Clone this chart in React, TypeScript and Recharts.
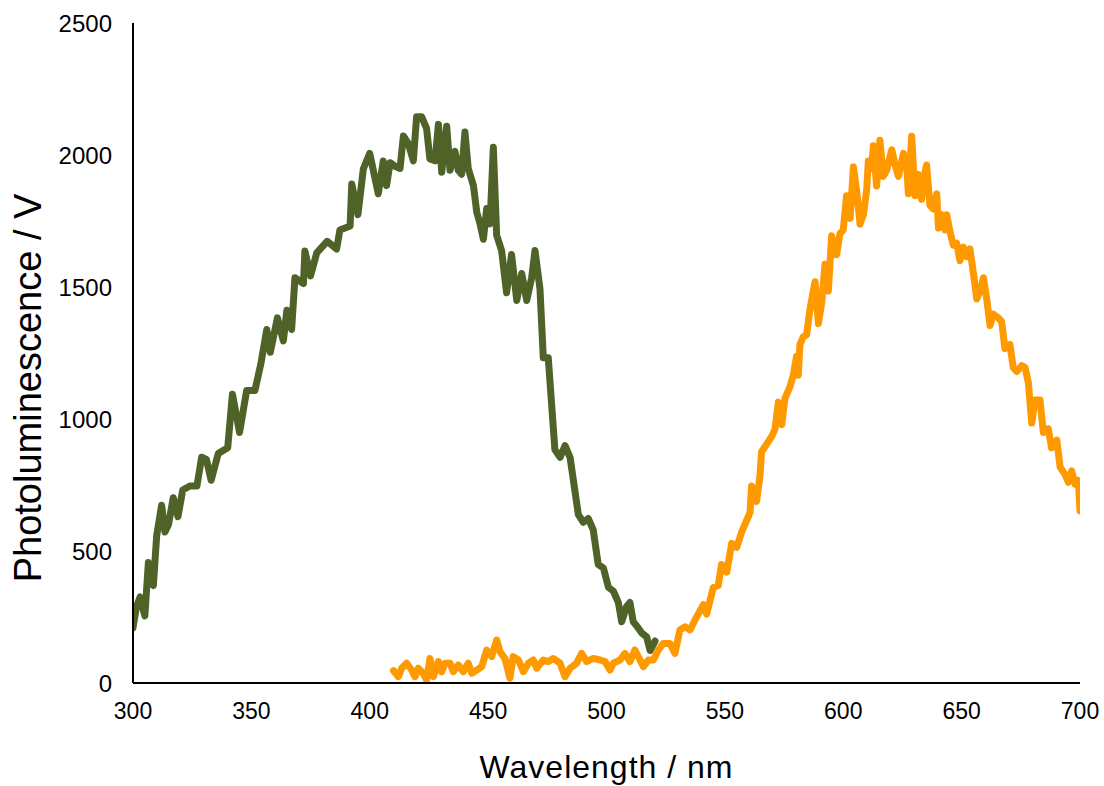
import { LineChart, Line, XAxis, YAxis, Label } from 'recharts';

// PL spectra: wavelength (nm) and signal (V)
const greenWl = [
  300, 301.5, 303, 305, 306.5, 308.6, 310, 312.1, 313.5, 315, 317, 319, 321, 324, 327, 329, 331, 333, 336,
  340, 342, 345, 348, 351.5, 354, 356.5, 358, 361, 363.5, 365, 367, 368.4, 372, 372.6, 375, 377.6, 382,
  386, 387.4, 391.7, 392.4, 395, 397.3, 400, 403.6, 405.7, 407.1, 408.6, 410.7, 412.8, 414.2, 416.3,
  418.4, 419.8, 421.9, 424, 425.4, 427.6, 429, 430.4, 432.5, 433.9, 436, 437.4, 438.8, 440.2, 441.6,
  443.8, 445.2, 446.6, 448, 449.4, 450.8, 452.2, 453.6, 455.7, 457.8, 459.9, 462.1, 464.2, 466.3, 468.4,
  469.8, 471.9, 473.3, 475.4, 476.8, 478.2, 480.4, 482.5, 484.6, 486.7, 488.1, 490.2, 492.3, 494.4,
  496.5, 498.7, 500.8, 502.9, 505, 506.4, 508.5, 509.9, 511.3, 512.7, 514.9, 517, 518.4, 520.5,
];
const greenPl = [
  210, 290, 326, 254, 456, 369, 558, 673, 572, 600, 702, 630, 731, 746, 746, 855, 847, 768, 869,
  891, 1094, 949, 1108, 1108, 1209, 1339, 1253, 1383, 1296, 1412, 1339, 1535, 1513, 1636, 1542, 1629, 1673,
  1644, 1716, 1731, 1890, 1774, 1948, 2006, 1853, 1977, 1884, 1971, 1957, 1949, 2072, 2043,
  1978, 2145, 2145, 2101, 1985, 1978, 2116, 1935, 2109, 1942, 2014, 1942, 1927, 2087, 1949,
  1884, 1783, 1739, 1681, 1797, 1739, 2029, 1696, 1638, 1478, 1623, 1449, 1551, 1449, 1536,
  1638, 1493, 1232, 1232, 1058, 884, 855, 899, 855, 725, 638, 609, 623, 580,
  449, 435, 363, 348, 305, 232, 290, 305, 232, 217, 189, 174, 123, 159,
];

const orangeWl = [
  410, 412.1, 413.5, 415.6, 417.7, 419.1, 420.5, 422.6, 424, 425.4, 426.9, 429, 430.4, 431.8, 433.9,
  435.3, 437.4, 439.5, 441.6, 443.1, 445.2, 447.3, 449.4, 451.5, 453.6, 455, 457.1, 459.2, 460.6, 462.8,
  464.9, 467, 469.1, 470.5, 473.3, 475.4, 477.5, 480.4, 482.5, 484.6, 487.4, 489.5, 491.6, 494.4, 497.3,
  499.4, 501.5, 502.9, 505.7, 507.8, 509.9, 512, 514.2, 515.6, 517.7, 519.8, 521.9, 524, 526.8, 528.9,
  531, 533.2, 535.3, 537.4, 540.9, 542.3, 543.7, 545.1, 547.2, 548.6, 550.8, 552.9, 555, 557.1, 559.2,
  560.6, 561.3, 563.4, 564.8, 565.5, 567.7, 569.8, 571.2, 572.6, 574, 575.4, 577.5, 578.9, 580.3, 581,
  581.7, 583.1, 584.5, 586, 588.1, 589.5, 590.9, 592.3, 593.7, 595.1, 597.2, 598.6, 600, 601.4, 602.9,
  604.3, 605.7, 607.1, 608.5, 609.9, 610.6, 612, 612.7, 614.1, 615.5, 616.9, 618.3, 620.5, 621.9, 623.3,
  625.4, 626.8, 627.5, 628.9, 630.3, 631.7, 633.1, 633.8, 635.2, 636.6, 638, 639.5, 640.2, 641.6, 643,
  643.7, 645.1, 646.5, 647.9, 649.3, 650.7, 652.1, 653.5, 654.9, 656.4, 657.8, 659.2, 660.6, 662, 663.4,
  665.5, 666.9, 668.3, 670.4, 671.8, 673.3, 675.4, 676.8, 678.2, 679.6, 681, 683.1, 684.5, 686.6, 688,
  690.2, 691.6, 693.7, 695.1, 696.5, 697.9, 699.3, 700,
];
const orangePl = [
  47, 24, 56, 75, 49, 24, 56, 37, 11, 93, 24, 81, 43, 75, 75,
  43, 68, 43, 75, 37, 49, 62, 125, 100, 163, 119, 93, 18, 100, 87,
  43, 75, 87, 56, 87, 81, 93, 75, 24, 56, 75, 112, 81, 93, 87,
  81, 49, 75, 87, 112, 81, 125, 87, 62, 87, 87, 125, 150, 150, 112,
  201, 213, 201, 239, 297, 261, 311, 362, 369, 449, 420, 529, 514, 572, 616,
  645, 746, 688, 782, 876, 905, 934, 963, 1064, 978, 1079, 1122, 1166, 1238, 1166,
  1282, 1311, 1318, 1419, 1520, 1361, 1441, 1586, 1485, 1694, 1622, 1702, 1716, 1846, 1760,
  1955, 1861, 1738, 1774, 1868, 1977, 1948, 2035, 1883, 2056, 1919, 1941, 2020, 1962, 1919,
  2006, 1962, 1853, 2071, 1846, 1926, 1832, 1904, 1962, 1810, 1796, 1853, 1723, 1774, 1716,
  1774, 1709, 1658, 1666, 1600, 1651, 1615, 1644, 1557, 1455, 1485, 1535, 1455, 1354, 1397,
  1383, 1369, 1267, 1282, 1195, 1180, 1202, 1195, 1137, 985, 1072, 1072, 949, 963, 891,
  920, 818, 789, 760, 804, 753, 767, 652,
];

const xTicks = [300, 350, 400, 450, 500, 550, 600, 650, 700];
const yTicks = [0, 500, 1000, 1500, 2000, 2500];

const greenData = greenWl.map((x, i) => ({ x, y: greenPl[i] }));
const orangeData = orangeWl.map((x, i) => ({ x, y: orangePl[i] }));

const font = 'Liberation Sans, Arial, sans-serif';

// y title sits a bit below the plot's centre in the reference
const YTitle = () => (
  <text
    x={28}
    y={388}
    transform="rotate(-90 28 388)"
    textAnchor="middle"
    dominantBaseline="central"
    fill="#000"
    fontSize={38}
    fontFamily={font}
  >
    Photoluminescence / V
  </text>
);

export default function App() {
  return (
    <div style={{ position: 'absolute', left: 0, top: 0, background: '#fff' }}>
      <LineChart width={1104} height={786} margin={{ top: 23, right: 24, left: 0, bottom: 0 }}>
        <XAxis
          type="number"
          dataKey="x"
          domain={[300, 700]}
          ticks={xTicks}
          allowDataOverflow
          height={103}
          tickLine={false}
          tickSize={6}
          tickMargin={14}
          axisLine={{ stroke: '#000', strokeWidth: 2 }}
          tick={{ fill: '#000', fontSize: 23, fontFamily: font }}
        >
          <Label
            value="Wavelength / nm"
            position="insideBottom"
            offset={8}
            style={{ fill: '#000', fontSize: 32, fontFamily: font, letterSpacing: 1 }}
          />
        </XAxis>
        <YAxis
          type="number"
          domain={[0, 2500]}
          ticks={yTicks}
          width={133}
          tickLine={false}
          tickSize={6}
          tickMargin={15}
          axisLine={{ stroke: '#000', strokeWidth: 2 }}
          tick={{ fill: '#000', fontSize: 24, fontFamily: font }}
        >
          <Label content={YTitle} />
        </YAxis>
        <Line
          data={greenData}
          dataKey="y"
          type="linear"
          stroke="#4f6228"
          strokeWidth={7}
          strokeLinejoin="round"
          strokeLinecap="round"
          dot={false}
          isAnimationActive={false}
        />
        <Line
          data={orangeData}
          dataKey="y"
          type="linear"
          stroke="#ff9900"
          strokeWidth={7}
          strokeLinejoin="round"
          strokeLinecap="round"
          dot={false}
          isAnimationActive={false}
        />
      </LineChart>
    </div>
  );
}
